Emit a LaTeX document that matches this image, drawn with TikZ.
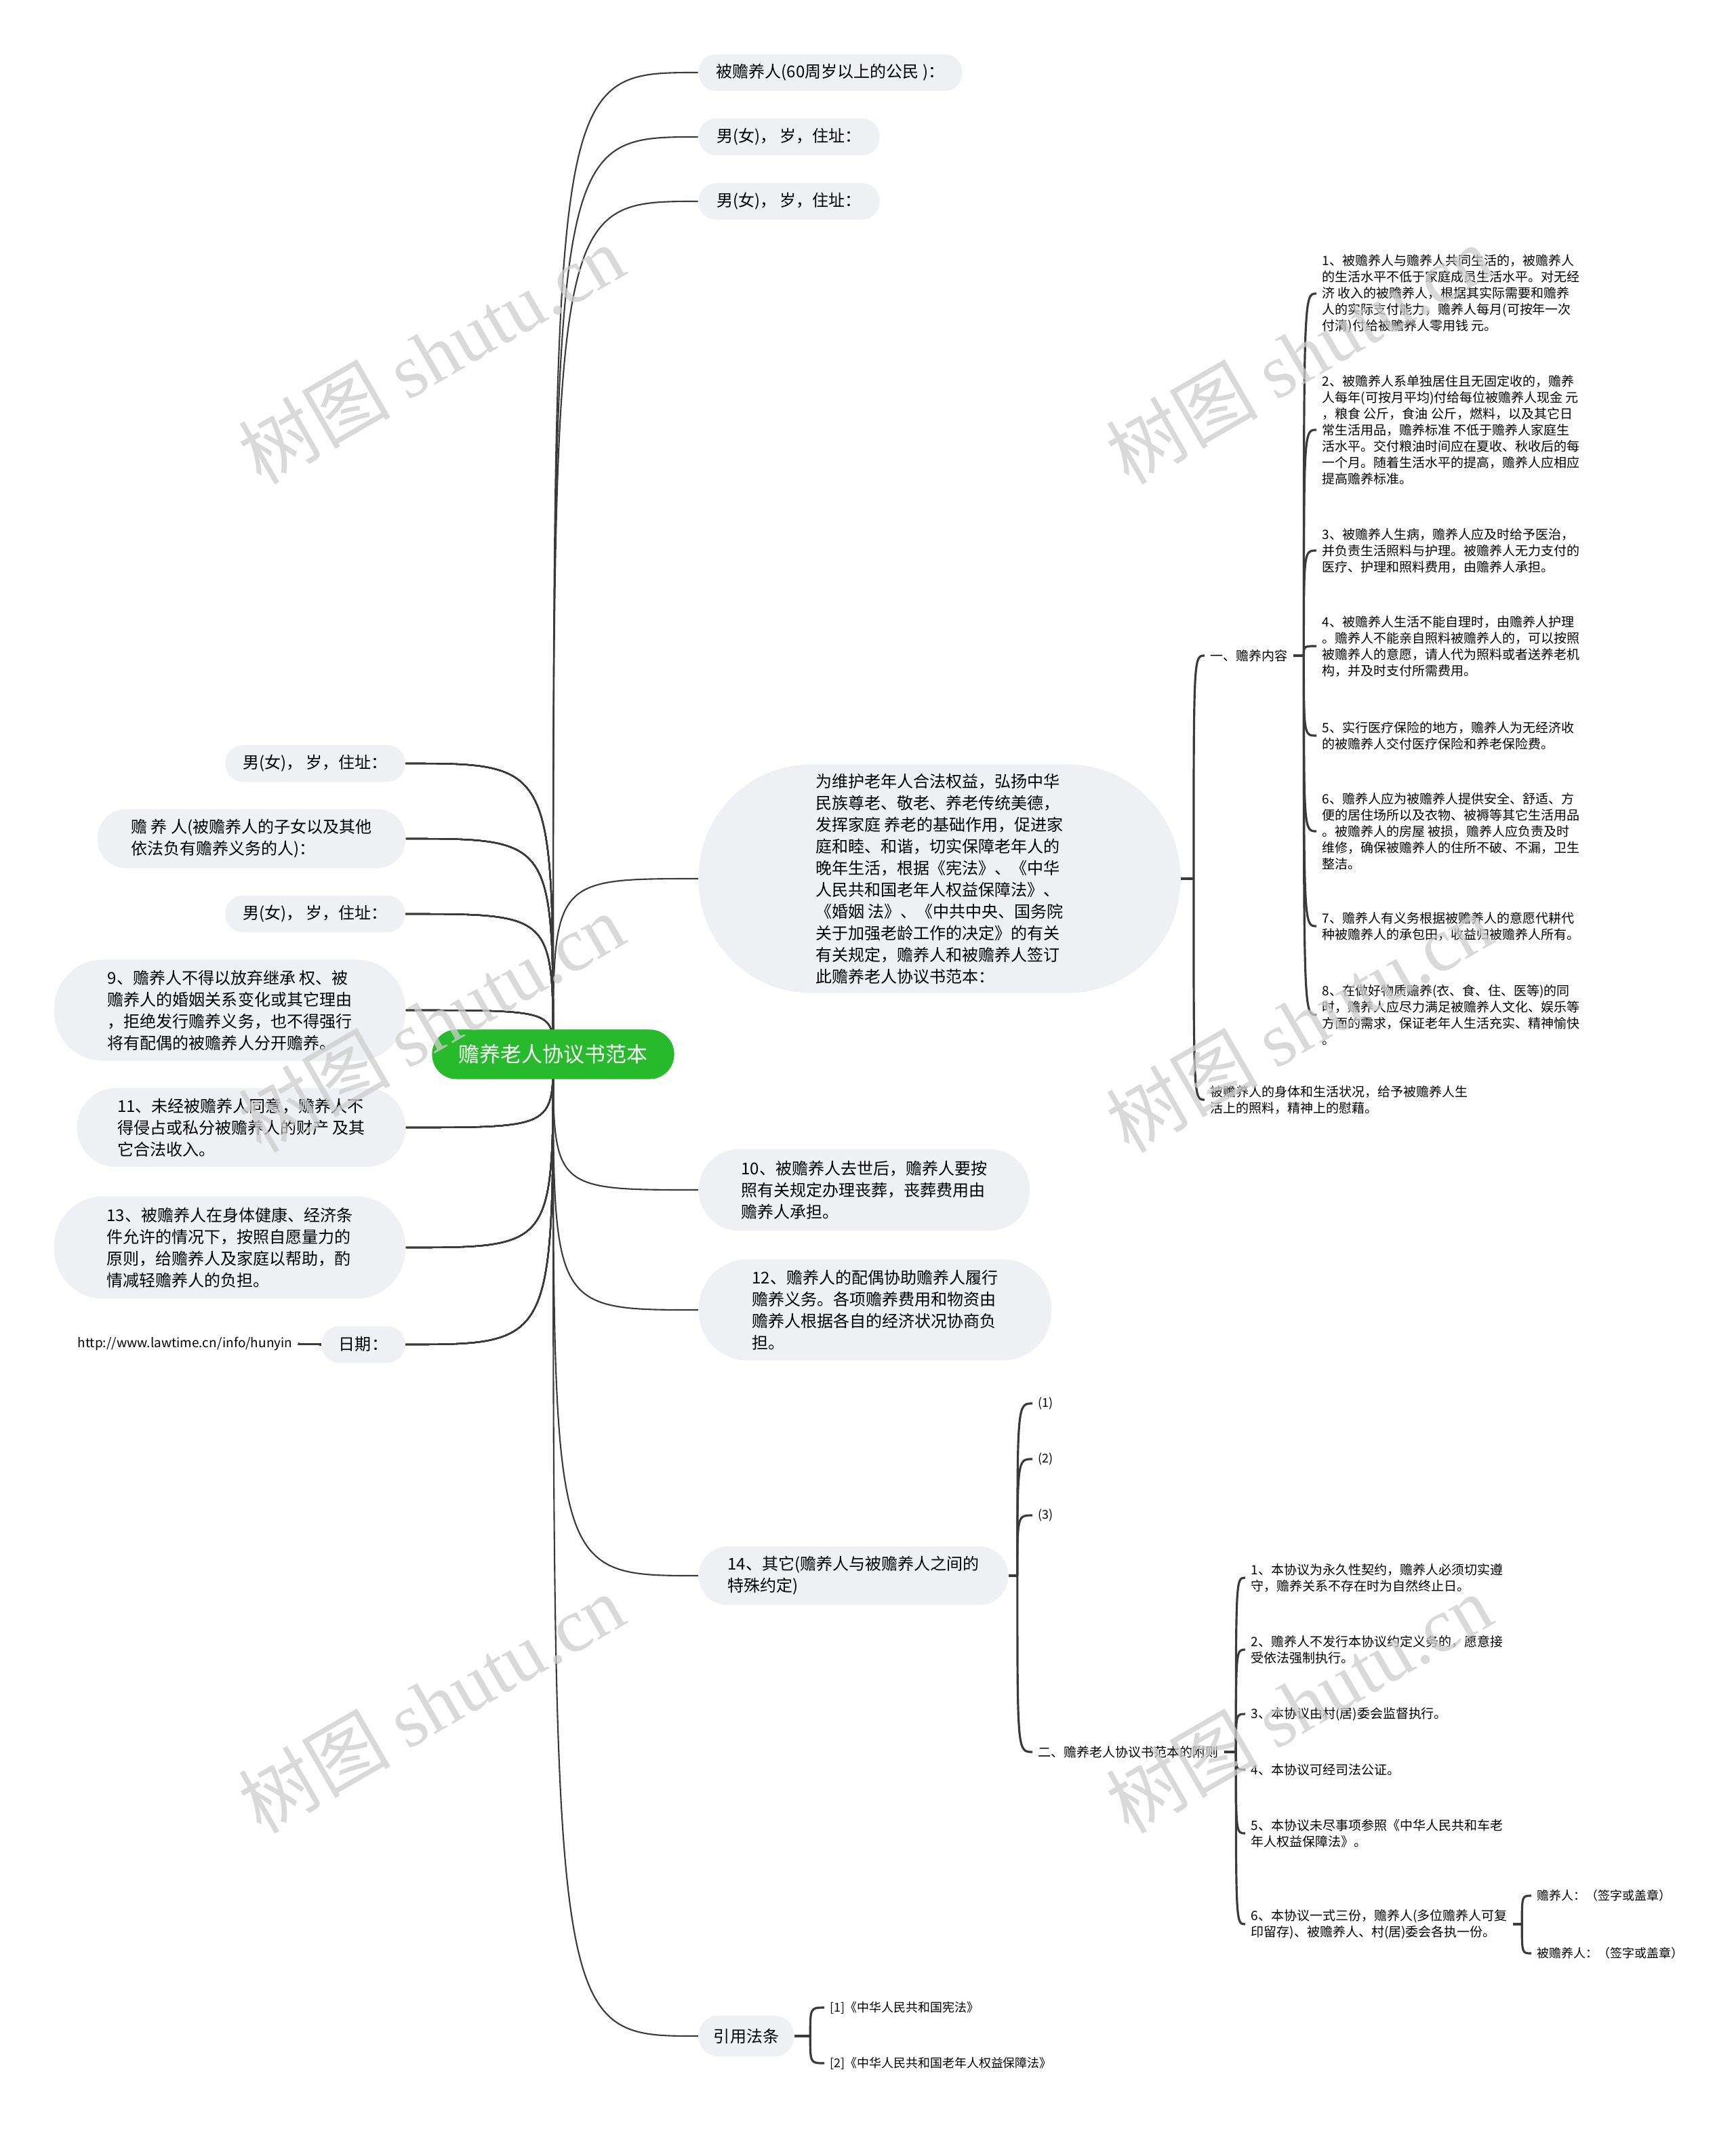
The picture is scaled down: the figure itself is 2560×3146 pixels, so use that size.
\documentclass[tikz,border=0pt]{standalone}
\usepackage{fontspec}
\setmainfont{Noto Sans CJK SC}
\newfontfamily\markfont{Liberation Serif}
\usepackage{xcolor}
\usetikzlibrary{backgrounds}

\definecolor{boxgray}{RGB}{238,240,243}
\definecolor{rootgreen}{RGB}{38,186,44}
\definecolor{linegray}{RGB}{58,58,58}
\definecolor{markgray}{RGB}{205,205,205}

\newcommand\bigtxt{\fontsize{6.83pt}{9.1pt}\selectfont}
\newcommand\smalltxt{\fontsize{5.4pt}{6.83pt}\selectfont}
\newcommand\tinytxt{\fontsize{5.1pt}{6.2pt}\selectfont}
\newcommand\branch[3][link]{\draw[#1] (#2) .. controls (#2 |- #3) and (#2 |- #3) .. (#3);}

\begin{document}
\begin{tikzpicture}[x=0.01cm, y=-0.01cm,
  topic/.style={fill=boxgray, align=left, inner sep=0pt, font=\bigtxt},
  leaf/.style={anchor=west, align=left, inner xsep=0.08cm, inner ysep=0pt, font=\smalltxt},
  link/.style={draw=linegray, line width=0.6pt},
  bracket/.style={draw=linegray, line width=0.9pt},
  wmark/.style={text=markgray, opacity=0.75, rotate=30, font=\fontsize{32pt}{32pt}\selectfont},
]
\useasboundingbox (0,0) rectangle (2560,3146);

% root
\node[fill=rootgreen, text=white, rounded corners=0.36cm, minimum width=3.57cm,
  minimum height=0.73cm, inner sep=0pt, font=\fontsize{8.8pt}{10pt}\selectfont]
  (root) at (816,1555) {赡养老人协议书范本};

% right side
\node[topic, minimum width=3.89cm, minimum height=0.54cm, rounded corners=0.26cm] (t1) at (1225,107) {被赡养人(60周岁以上的公民 )：};
\node[topic, minimum width=2.67cm, minimum height=0.54cm, rounded corners=0.26cm] (t2) at (1164,202) {男(女)， 岁，住址：};
\node[topic, minimum width=2.67cm, minimum height=0.54cm, rounded corners=0.26cm] (t3) at (1164,297) {男(女)， 岁，住址：};
\node[topic, minimum width=7.10cm, minimum height=3.37cm, rounded corners=1.66cm] (pre) at (1386,1296) {为维护老年人合法权益，弘扬中华\\民族尊老、敬老、养老传统美德，\\发挥家庭 养老的基础作用，促进家\\庭和睦、和谐，切实保障老年人的\\晚年生活，根据《宪法》、《中华\\人民共和国老年人权益保障法》、\\《婚姻 法》、《中共中央、国务院\\关于加强老龄工作的决定》的有关\\有关规定，赡养人和被赡养人签订\\此赡养老人协议书范本：};
\node[topic, minimum width=4.88cm, minimum height=1.20cm, rounded corners=0.59cm] (n10) at (1275,1755) {10、被赡养人去世后，赡养人要按\\照有关规定办理丧葬，丧葬费用由\\赡养人承担。};
\node[topic, minimum width=5.20cm, minimum height=1.49cm, rounded corners=0.72cm] (n12) at (1291,1932) {12、赡养人的配偶协助赡养人履行\\赡养义务。各项赡养费用和物资由\\赡养人根据各自的经济状况协商负\\担。};
\node[topic, minimum width=4.56cm, minimum height=0.86cm, rounded corners=0.42cm] (n14) at (1259,2324) {14、其它(赡养人与被赡养人之间的\\特殊约定)};
\node[topic, minimum width=1.41cm, minimum height=0.60cm, rounded corners=0.29cm] (law) at (1101,3003) {引用法条};

% left side
\node[topic, minimum width=2.65cm, minimum height=0.54cm, rounded corners=0.26cm] (l1) at (465,1126) {男(女)， 岁，住址：};
\node[topic, minimum width=4.54cm, minimum height=0.87cm, rounded corners=0.42cm] (l2) at (371,1237) {赡 养 人(被赡养人的子女以及其他\\依法负有赡养义务的人)：};
\node[topic, minimum width=2.65cm, minimum height=0.54cm, rounded corners=0.26cm] (l3) at (465,1348) {男(女)， 岁，住址：};
\node[topic, minimum width=5.18cm, minimum height=1.49cm, rounded corners=0.72cm] (n9) at (339,1490) {9、赡养人不得以放弃继承 权、被\\赡养人的婚姻关系变化或其它理由\\，拒绝发行赡养义务，也不得强行\\将有配偶的被赡养人分开赡养。};
\node[topic, minimum width=4.84cm, minimum height=1.16cm, rounded corners=0.57cm] (n11) at (356,1663) {11、未经被赡养人同意，赡养人不\\得侵占或私分被赡养人的财产 及其\\它合法收入。};
\node[topic, minimum width=5.18cm, minimum height=1.51cm, rounded corners=0.73cm] (n13) at (339,1840) {13、被赡养人在身体健康、经济条\\件允许的情况下，按照自愿量力的\\原则，给赡养人及家庭以帮助，酌\\情减轻赡养人的负担。};
\node[topic, minimum width=1.23cm, minimum height=0.54cm, rounded corners=0.26cm] (date) at (536,1983) {日期：};
\node[leaf, anchor=east, font=\fontsize{5.4pt}{6.2pt}\selectfont] (url) at (440,1982) {http://www.lawtime.cn/info/hunyin};

% 赡养内容
\node[leaf] (c0) at (1777,967) {一、赡养内容};
\node[leaf] (c9) at (1777,1622) {被赡养人的身体和生活状况，给予被赡养人生\\活上的照料，精神上的慰藉。};
\node[leaf] (i1) at (1942,433) {1、被赡养人与赡养人共同生活的，被赡养人\\的生活水平不低于家庭成员生活水平。对无经\\济 收入的被赡养人，根据其实际需要和赡养\\人的实际支付能力，赡养人每月(可按年一次\\付清)付给被赡养人零用钱 元。};
\node[leaf] (i2) at (1942,634) {2、被赡养人系单独居住且无固定收的，赡养\\人每年(可按月平均)付给每位被赡养人现金 元\\，粮食 公斤，食油 公斤，燃料，以及其它日\\常生活用品，赡养标准 不低于赡养人家庭生\\活水平。交付粮油时间应在夏收、秋收后的每\\一个月。随着生活水平的提高，赡养人应相应\\提高赡养标准。};
\node[leaf] (i3) at (1942,812) {3、被赡养人生病，赡养人应及时给予医治，\\并负责生活照料与护理。被赡养人无力支付的\\医疗、护理和照料费用，由赡养人承担。};
\node[leaf] (i4) at (1942,953) {4、被赡养人生活不能自理时，由赡养人护理\\。赡养人不能亲自照料被赡养人的，可以按照\\被赡养人的意愿，请人代为照料或者送养老机\\构，并及时支付所需费用。};
\node[leaf] (i5) at (1942,1085) {5、实行医疗保险的地方，赡养人为无经济收\\的被赡养人交付医疗保险和养老保险费。};
\node[leaf] (i6) at (1942,1226) {6、赡养人应为被赡养人提供安全、舒适、方\\便的居住场所以及衣物、被褥等其它生活用品\\。被赡养人的房屋 被损，赡养人应负责及时\\维修，确保被赡养人的住所不破、不漏，卫生\\整洁。};
\node[leaf] (i7) at (1942,1366) {7、赡养人有义务根据被赡养人的意愿代耕代\\种被赡养人的承包田，收益归被赡养人所有。};
\node[leaf] (i8) at (1942,1497) {8、在做好物质赡养(衣、食、住、医等)的同\\时，赡养人应尽力满足被赡养人文化、娱乐等\\方面的需求，保证老年人生活充实、精神愉快\\。};

% 其它 / 附则
\node[leaf, font=\tinytxt] (p1) at (1523,2070) {(1)};
\node[leaf, font=\tinytxt] (p2) at (1523,2152) {(2)};
\node[leaf, font=\tinytxt] (p3) at (1523,2235) {(3)};
\node[leaf] (fz) at (1523,2584) {二、赡养老人协议书范本的附则};
\node[leaf] (f1) at (1837,2327) {1、本协议为永久性契约，赡养人必须切实遵\\守，赡养关系不存在时为自然终止日。};
\node[leaf] (f2) at (1837,2433) {2、赡养人不发行本协议约定义务的，愿意接\\受依法强制执行。};
\node[leaf] (f3) at (1837,2528) {3、本协议由村(居)委会监督执行。};
\node[leaf] (f4) at (1837,2610) {4、本协议可经司法公证。};
\node[leaf] (f5) at (1837,2704) {5、本协议未尽事项参照《中华人民共和车老\\年人权益保障法》。};
\node[leaf] (f6) at (1837,2838) {6、本协议一式三份，赡养人(多位赡养人可复\\印留存)、被赡养人、村(居)委会各执一份。};
\node[leaf, font=\tinytxt] (s1) at (2259,2796) {赡养人：（签字或盖章）};
\node[leaf, font=\tinytxt] (s2) at (2259,2881) {被赡养人：（签字或盖章）};

% 引用法条
\node[leaf, font=\tinytxt] (r1) at (1216,2961) {[1]《中华人民共和国宪法》};
\node[leaf, font=\tinytxt] (r2) at (1216,3043) {[2]《中华人民共和国老年人权益保障法》};

\coordinate (j0) at ([xshift=0.19cm]pre.east);
\coordinate (j1) at ([xshift=0.15cm]c0.east);
\coordinate (j2) at ([xshift=0.13cm]n14.east);
\coordinate (j3) at ([xshift=0.17cm]fz.east);
\coordinate (j4) at ([xshift=0.13cm]f6.east);
\coordinate (j5) at ([xshift=0.23cm]law.east);

\begin{pgfonlayer}{background}
  \fill[white] (0,0) rectangle (2560,3146);
  \foreach \n in {t1,t2,t3,pre,n10,n12,n14,law}
    \branch{root.center}{\n.west}
  \foreach \n in {l1,l2,l3,n9,n11,n13,date}
    \branch{root.center}{\n.east}
  \draw[link] (date.west) -- (url.east);
\end{pgfonlayer}

\draw[bracket] (pre.east) -- (j0);
\branch[bracket]{j0}{c0.west}
\branch[bracket]{j0}{c9.west}
\draw[bracket] (c0.east) -- (j1);
\foreach \k in {1,...,8}
  \branch[bracket]{j1}{i\k.west}
\draw[bracket] (n14.east) -- (j2);
\foreach \n in {p1,p2,p3,fz}
  \branch[bracket]{j2}{\n.west}
\draw[bracket] (fz.east) -- (j3);
\foreach \k in {1,...,6}
  \branch[bracket]{j3}{f\k.west}
\draw[bracket] (f6.east) -- (j4);
\branch[bracket]{j4}{s1.west}
\branch[bracket]{j4}{s2.west}
\draw[bracket] (law.east) -- (j5);
\branch[bracket]{j5}{r1.west}
\branch[bracket]{j5}{r2.west}

% watermark
\foreach \wx/\wy [count=\w] in {636/522,1916/522,636/1508,1916/1508,636/2512,1916/2512}
  \node[wmark] (w\w) at (\wx,\wy) {树图 {\markfont shutu.cn}};
\end{tikzpicture}
\end{document}
